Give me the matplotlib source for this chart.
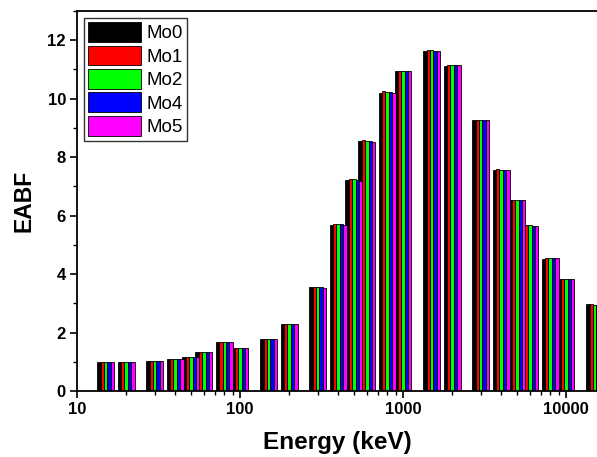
import numpy as np
import matplotlib
matplotlib.use("Agg")
import matplotlib.pyplot as plt
from matplotlib.ticker import LogLocator, NullFormatter, MultipleLocator

plt.rcParams['font.family'] = ['Liberation Sans', 'DejaVu Sans']

energy = [15, 20, 30, 40, 50, 60, 80, 100, 150, 200, 300, 400, 500, 600,
          800, 1000, 1500, 2000, 3000, 4000, 5000, 6000, 8000, 10000, 15000]

mo0 = [1.00, 1.00, 1.03, 1.09, 1.17, 1.34, 1.68, 1.47, 1.79, 2.29, 3.56, 5.69, 7.22, 8.55,
       10.20, 10.94, 11.64, 11.13, 9.27, 7.57, 6.54, 5.68, 4.53, 3.84, 2.97]
mo1 = [1.00, 1.00, 1.03, 1.10, 1.18, 1.35, 1.69, 1.48, 1.80, 2.30, 3.56, 5.73, 7.26, 8.58,
       10.25, 10.96, 11.66, 11.16, 9.28, 7.58, 6.55, 5.68, 4.55, 3.85, 2.97]
mo2 = [1.00, 1.00, 1.03, 1.10, 1.18, 1.35, 1.69, 1.48, 1.80, 2.30, 3.56, 5.72, 7.24, 8.57,
       10.23, 10.95, 11.65, 11.14, 9.28, 7.57, 6.54, 5.67, 4.54, 3.85, 2.96]
mo4 = [1.00, 1.00, 1.03, 1.10, 1.18, 1.35, 1.69, 1.48, 1.80, 2.30, 3.56, 5.70, 7.22, 8.54,
       10.23, 10.95, 11.64, 11.14, 9.27, 7.57, 6.54, 5.66, 4.55, 3.85, 2.96]
mo5 = [1.00, 1.00, 1.03, 1.10, 1.18, 1.35, 1.69, 1.48, 1.79, 2.30, 3.54, 5.68, 7.20, 8.53,
       10.20, 10.94, 11.64, 11.14, 9.27, 7.57, 6.53, 5.65, 4.56, 3.85, 2.96]

series = [mo0, mo1, mo2, mo4, mo5]
labels = ["Mo0", "Mo1", "Mo2", "Mo4", "Mo5"]
colors = ["#000000", "#ff0000", "#00ff00", "#0000ff", "#ff00ff"]

fig = plt.figure(figsize=(5.97, 4.57), dpi=100)
ax = fig.add_axes([0.129, 0.144, 0.871, 0.832])

E = np.array(energy, dtype=float)
group_w = 0.104   # group width in decades
bar_w = group_w / len(series)
for i, (vals, lab, col) in enumerate(zip(series, labels, colors)):
    left = E * 10 ** (-group_w / 2 + i * bar_w)
    right = E * 10 ** (-group_w / 2 + (i + 1) * bar_w)
    ax.bar(left, vals, width=right - left, align='edge', color=col,
           edgecolor='black', linewidth=0.6, label=lab)

ax.set_xscale('log')
ax.set_xlim(10, 15500)
ax.set_ylim(0, 13)

ax.yaxis.set_major_locator(MultipleLocator(2))
ax.yaxis.set_minor_locator(MultipleLocator(1))
ax.xaxis.set_minor_locator(LogLocator(base=10, subs=np.arange(2, 10)))
ax.xaxis.set_minor_formatter(NullFormatter())
ax.set_xticks([10, 100, 1000, 10000])
ax.set_xticklabels(["10", "100", "1000", "10000"])

ax.tick_params(which='major', direction='out', length=5, width=1.2, labelsize=12, pad=3)
ax.tick_params(which='minor', direction='out', length=3, width=1.0)
for lbl in ax.get_xticklabels() + ax.get_yticklabels():
    lbl.set_fontweight('bold')

ax.spines['right'].set_visible(False)
for s in ['left', 'top', 'bottom']:
    ax.spines[s].set_linewidth(1.3)

ax.set_xlabel("Energy (keV)", fontsize=17.5, fontweight='bold')
ax.set_ylabel("EABF", fontsize=16.5, fontweight='bold')
ax.xaxis.set_label_coords(0.5, -0.105)
ax.yaxis.set_label_coords(-0.08, 0.5)

leg = ax.legend(loc='upper left', fontsize=13.5, frameon=True, fancybox=False,
                edgecolor='black', handlelength=2.8, handleheight=1.25,
                labelspacing=0.17, handletextpad=0.3, borderpad=0.25,
                borderaxespad=0.35)
leg.get_frame().set_linewidth(1.0)

fig.savefig("out.png", dpi=100)
